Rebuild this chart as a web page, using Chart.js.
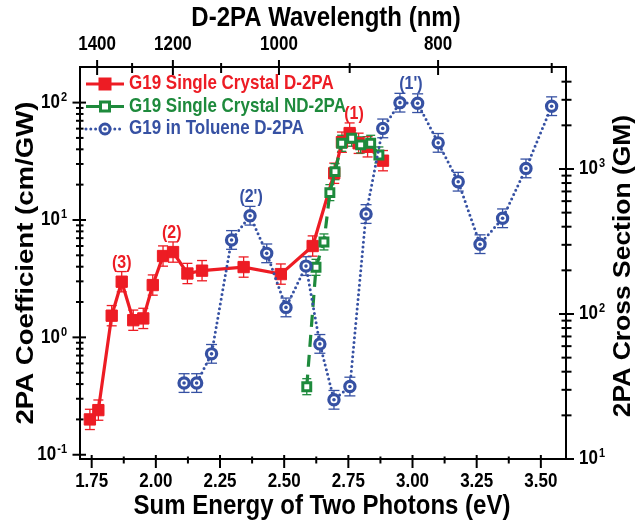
<!DOCTYPE html>
<html><head><meta charset="utf-8">
<script src="https://cdn.jsdelivr.net/npm/chart.js@4.4.1/dist/chart.umd.min.js"></script>
<style>html,body{margin:0;padding:0;background:#fff;}#wrap{width:637px;height:522px;position:relative;}</style>
</head><body><div id="wrap"><canvas id="c"></canvas></div>
<script>
// ---- data ----
const seriesNames = ['G19 Single Crystal D-2PA', 'G19 Single Crystal ND-2PA', 'G19 in Toluene D-2PA'];
const crystalD2paEnergy = [1.743, 1.776, 1.828, 1.867, 1.912, 1.951, 1.988, 2.028, 2.067, 2.123, 2.180, 2.342, 2.487, 2.611, 2.695, 2.725, 2.755, 2.790, 2.825, 2.885];
const crystalD2paBeta   = [0.20, 0.24, 1.53, 2.98, 1.40, 1.45, 2.79, 4.93, 5.33, 3.50, 3.70, 3.97, 3.46, 6.0, 25, 46, 55, 45, 42, 32];
const crystalNd2paEnergy = [2.588, 2.624, 2.655, 2.678, 2.698, 2.724, 2.763, 2.798, 2.837, 2.869];
const crystalNd2paBeta   = [0.38, 3.95, 6.5, 17.1, 25.8, 45, 49.7, 43.6, 45, 35.8];
const tolueneEnergy = [2.110, 2.159, 2.217, 2.295, 2.367, 2.432, 2.507, 2.585, 2.639, 2.694, 2.756, 2.819, 2.884, 2.951, 3.020, 3.100, 3.178, 3.263, 3.351, 3.442, 3.542];
const tolueneSigma  = [33.4, 33.4, 53.1, 324, 476, 262, 111, 214, 62.2, 25.6, 31.6, 489, 1905, 2866, 2843, 1514, 817, 303, 457, 1009, 2710];
const crystalD2paErr = 0.22, crystalNd2paErr = 0.17, tolueneErr = 0.16; // relative error bars
const xMajorTicks = [1.75, 2.00, 2.25, 2.50, 2.75, 3.00, 3.25, 3.50];
const xMinorTicks = [1.875, 2.125, 2.375, 2.625, 2.875, 3.125, 3.375];
const wavelengthMajor = [1400, 1200, 1000, 800];
const wavelengthMinor = [1300, 1100, 900, 700];
const leftDecades = [0.1, 1, 10, 100];
const leftExponents = ['-1', '0', '1', '2'];
const rightDecades = [10, 100, 1000];
const rightExponents = ['1', '2', '3'];
const peakLabels = ['(3)', '(2)', "(2')", '(1)', "(1')"];
const peakLabelEnergy = [1.867, 2.062, 2.371, 2.772, 2.994];
const peakLabelValue = [2.98, 5.33, 476, 55, 2866];
const peakLabelAxis = ['y', 'y', 'y2', 'y', 'y2'];
const peakLabelColor = [0, 0, 2, 0, 2];

const RED = '#ed1c24', GREEN = '#1e8a3c', BLUE = '#3651a3';
const COLORS = [RED, GREEN, BLUE];
const FONT = '"Liberation Sans", Arial, Helvetica, sans-serif';
const SY = 1.15;
const hc = 1239.84;
const toEnergy = (nm) => 2 * hc / nm;

function txt(ctx, s, x, y, size, color, align, rot) {
  ctx.save();
  ctx.translate(x, y);
  ctx.scale(1, SY);
  if (rot) ctx.rotate(rot);
  ctx.font = 'bold ' + size + 'px ' + FONT;
  ctx.fillStyle = color;
  ctx.textAlign = align || 'center';
  ctx.textBaseline = 'middle';
  ctx.fillText(s, 0, 0);
  ctx.restore();
}
function powLabel(ctx, exp, x, y, align) {
  ctx.save();
  ctx.font = 'bold 17px ' + FONT;
  const wb = ctx.measureText('10').width;
  ctx.font = 'bold 11px ' + FONT;
  const we = ctx.measureText(exp).width;
  ctx.restore();
  const x0 = align === 'right' ? x - wb - we - 1 : x;
  txt(ctx, '10', x0, y, 17, '#000', 'left');
  txt(ctx, exp, x0 + wb + 1, y - 5, 11, '#000', 'left');
}
function line(ctx, x1, y1, x2, y2) { ctx.beginPath(); ctx.moveTo(x1, y1); ctx.lineTo(x2, y2); ctx.stroke(); }

const decor = {
  id: 'decor',
  beforeDatasetsDraw(chart) {
    const ctx = chart.ctx, x = chart.scales.x;
    const sets = [[crystalD2paEnergy, crystalD2paBeta, crystalD2paErr, 'y', RED, 5],
                  [crystalNd2paEnergy, crystalNd2paBeta, crystalNd2paErr, 'y', GREEN, 4.5],
                  [tolueneEnergy, tolueneSigma, tolueneErr, 'y2', BLUE, 5.5]];
    ctx.save();
    ctx.lineWidth = 1.3;
    sets.forEach(([es, vs, r, ax, col, cap]) => {
      const ys = chart.scales[ax];
      ctx.strokeStyle = col;
      es.forEach((e, i) => {
        const px = x.getPixelForValue(e);
        const hi = ys.getPixelForValue(vs[i] * (1 + r));
        const lo = ys.getPixelForValue(vs[i] / (1 + r));
        line(ctx, px, hi, px, lo);
        line(ctx, px - cap, hi, px + cap, hi);
        line(ctx, px - cap, lo, px + cap, lo);
      });
    });
    ctx.restore();
  },
  afterDatasetsDraw(chart) {
    const ctx = chart.ctx;
    const meta = chart.getDatasetMeta(2);
    ctx.save();
    ctx.fillStyle = BLUE;
    meta.data.forEach(p => { ctx.beginPath(); ctx.arc(p.x, p.y, 1.8, 0, Math.PI * 2); ctx.fill(); });
    ctx.restore();
  },
  afterDraw(chart) {
    const ctx = chart.ctx, a = chart.chartArea;
    const x = chart.scales.x, y = chart.scales.y, y2 = chart.scales.y2;
    ctx.save();
    ctx.strokeStyle = '#000';
    ctx.lineWidth = 2;
    ctx.strokeRect(a.left, a.top, a.right - a.left, a.bottom - a.top);
    // bottom ticks
    xMajorTicks.forEach(v => {
      const px = x.getPixelForValue(v);
      line(ctx, px, a.bottom - 4, px, a.bottom + 9);
      txt(ctx, v.toFixed(2), px, a.bottom + 23, 17, '#000', 'center');
    });
    xMinorTicks.forEach(v => { const px = x.getPixelForValue(v); line(ctx, px, a.bottom - 2.5, px, a.bottom + 4.5); });
    // top ticks
    wavelengthMajor.forEach(w => {
      const px = x.getPixelForValue(toEnergy(w));
      line(ctx, px, a.top - 7, px, a.top + 8);
      txt(ctx, String(w), px, a.top - 22, 17, '#000', 'center');
    });
    wavelengthMinor.forEach(w => { const px = x.getPixelForValue(toEnergy(w)); line(ctx, px, a.top - 4, px, a.top + 6); });
    // left log ticks
    leftDecades.forEach((d, k) => {
      const py = y.getPixelForValue(d);
      line(ctx, a.left - 7.5, py, a.left + 6, py);
      powLabel(ctx, leftExponents[k], a.left - 13, py, 'right');
      for (let m = 2; m <= 9; m++) {
        const v = d * m; if (v > y.max * 0.99) break;
        const pm = y.getPixelForValue(v);
        line(ctx, a.left - 4, pm, a.left + 3.5, pm);
      }
    });
    // right log ticks
    rightDecades.forEach((d, k) => {
      const py = y2.getPixelForValue(d);
      line(ctx, a.right - 7, py, a.right + 8, py);
      powLabel(ctx, rightExponents[k], a.right + 13, py, 'left');
      for (let m = 2; m <= 9; m++) {
        const v = d * m; if (v > y2.max * 0.99) break;
        const pm = y2.getPixelForValue(v);
        line(ctx, a.right - 4.5, pm, a.right + 5.5, pm);
      }
    });
    // titles
    txt(ctx, 'Sum Energy of Two Photons (eV)', 322, 506, 24, '#000', 'center');
    txt(ctx, 'D-2PA Wavelength (nm)', 326, 18, 24, '#000', 'center');
    txt(ctx, '2PA Coefficient (cm/GW)', 26, 263, 24, '#000', 'center', -Math.PI / 2);
    txt(ctx, '2PA Cross Section (GM)', 624, 266, 23, '#000', 'center', -Math.PI / 2);
    // peak labels
    peakLabels.forEach((s, i) => {
      const px = x.getPixelForValue(peakLabelEnergy[i]);
      const py = chart.scales[peakLabelAxis[i]].getPixelForValue(peakLabelValue[i]);
      txt(ctx, s, px, py - 19, 16, COLORS[peakLabelColor[i]], 'center');
    });
    // legend
    const rows = [84, 106.5, 129];
    const lx1 = 86, lx2 = 124, mx = 105, tx = 129;
    rows.forEach((ry, i) => {
      ctx.save();
      ctx.strokeStyle = COLORS[i];
      ctx.lineWidth = 3;
      if (i === 2) { ctx.setLineDash([0, 4.8]); ctx.lineCap = 'round'; }
      line(ctx, lx1, ry, lx2, ry);
      ctx.setLineDash([]);
      if (i === 0) { ctx.fillStyle = RED; ctx.fillRect(mx - 6.5, ry - 6.5, 13, 13); }
      if (i === 1) { ctx.fillStyle = '#fff'; ctx.fillRect(mx - 4.5, ry - 4.5, 9, 9); ctx.strokeRect(mx - 4.5, ry - 4.5, 9, 9); }
      if (i === 2) {
        ctx.fillStyle = '#fff'; ctx.beginPath(); ctx.arc(mx, ry, 5, 0, Math.PI * 2); ctx.fill(); ctx.stroke();
        ctx.fillStyle = BLUE; ctx.beginPath(); ctx.arc(mx, ry, 1.8, 0, Math.PI * 2); ctx.fill();
      }
      ctx.restore();
      txt(ctx, seriesNames[i], tx, ry, 17, COLORS[i], 'left');
    });
    ctx.restore();
  }
};

const X_MIN = 1.7045, X_MAX = 3.598;
const hidden = { grid: { display: false }, border: { display: false } };
new Chart(document.getElementById('c'), {
  type: 'line',
  data: {
    datasets: [
      { label: seriesNames[0], data: crystalD2paEnergy.map((e, i) => ({ x: e, y: crystalD2paBeta[i] })),
        xAxisID: 'x', yAxisID: 'y', borderColor: RED, backgroundColor: RED, borderWidth: 3.2,
        pointStyle: 'rect', pointRadius: 8, pointBackgroundColor: RED, pointBorderColor: RED, pointBorderWidth: 1, order: 3 },
      { label: seriesNames[1], data: crystalNd2paEnergy.map((e, i) => ({ x: e, y: crystalNd2paBeta[i] })),
        xAxisID: 'x', yAxisID: 'y', borderColor: GREEN, backgroundColor: '#fff', borderWidth: 3.2, borderDash: [12, 8],
        pointStyle: 'rect', pointRadius: 5.6, pointBackgroundColor: '#fff', pointBorderColor: GREEN, pointBorderWidth: 3, order: 2 },
      { label: seriesNames[2], data: tolueneEnergy.map((e, i) => ({ x: e, y: tolueneSigma[i] })),
        xAxisID: 'x', yAxisID: 'y2', borderColor: BLUE, backgroundColor: '#fff', borderWidth: 3, borderDash: [0, 4.8], borderCapStyle: 'round',
        pointStyle: 'circle', pointRadius: 5.1, pointBackgroundColor: '#fff', pointBorderColor: BLUE, pointBorderWidth: 3.2, order: 1 }
    ]
  },
  options: {
    animation: false, responsive: true, maintainAspectRatio: false, devicePixelRatio: 1,
    layout: { padding: 0 },
    plugins: { legend: { display: false }, tooltip: { enabled: false } },
    scales: {
      x: { type: 'linear', position: 'bottom', min: X_MIN, max: X_MAX, ...hidden, ticks: { display: false },
           afterBuildTicks(s) { s.ticks = xMajorTicks.map(v => ({ value: v })); }, afterFit(s) { s.height = 63; } },
      xTop: { type: 'linear', position: 'top', min: X_MIN, max: X_MAX, ...hidden, ticks: { display: false },
           afterBuildTicks(s) { s.ticks = wavelengthMajor.map(w => ({ value: toEnergy(w) })); }, afterFit(s) { s.height = 67; } },
      y: { type: 'logarithmic', position: 'left', min: 0.092, max: 201, ...hidden, ticks: { display: false },
           afterBuildTicks(s) { s.ticks = leftDecades.map(v => ({ value: v })); }, afterFit(s) { s.width = 80; } },
      y2: { type: 'logarithmic', position: 'right', min: 10, max: 5050, ...hidden, ticks: { display: false },
           afterBuildTicks(s) { s.ticks = rightDecades.map(v => ({ value: v })); }, afterFit(s) { s.width = 71; } }
    }
  },
  plugins: [decor]
});
</script></body></html>
